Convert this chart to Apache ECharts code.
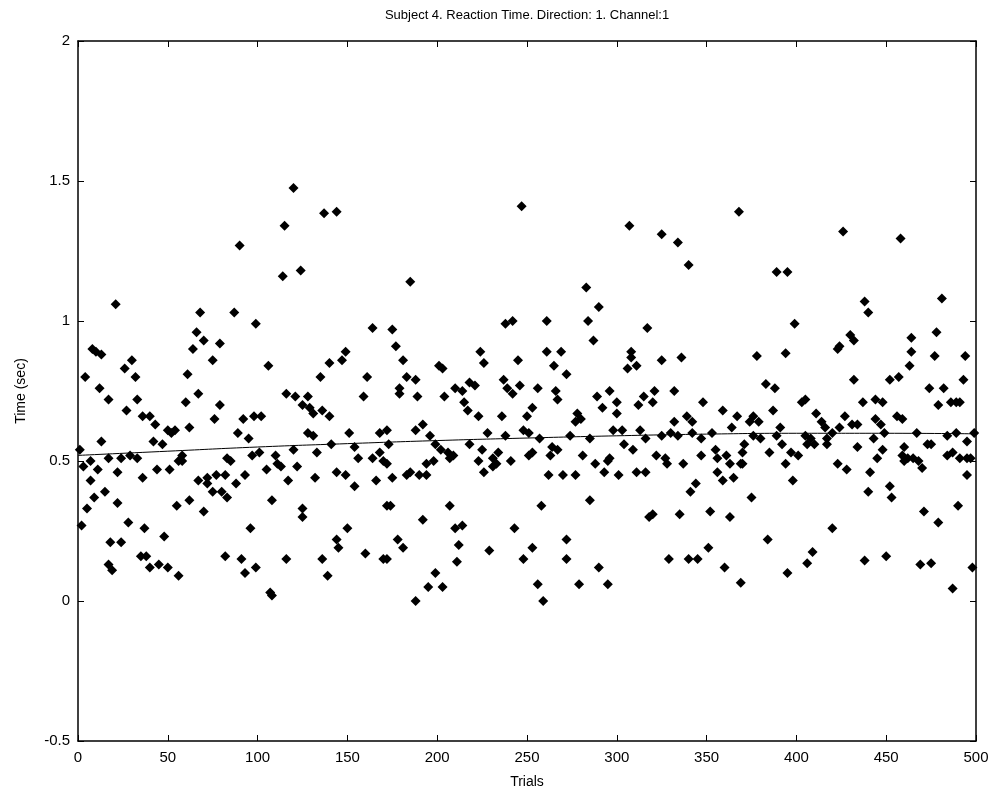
<!DOCTYPE html>
<html>
<head>
<meta charset="utf-8">
<title>Reaction Time</title>
<script src="https://cdn.jsdelivr.net/npm/echarts@6/dist/echarts.min.js"></script>
<style>
  html, body { margin: 0; padding: 0; background: #fff; }
  #main { width: 994px; height: 799px; }
</style>
</head>
<body>
<div id="main"></div>
<script>
// 坐标轴刻度
var xTicks = [0, 50, 100, 150, 200, 250, 300, 350, 400, 450, 500];
var yTicks = [-0.5, 0, 0.5, 1, 1.5, 2];

// 每次试验的反应时间 [trial, time(sec)]
var points = [
  [1,0.54],[2,0.27],[3,0.48],[4,0.80],[5,0.33],[7,0.50],[7,0.43],[8,0.90],[9,0.37],[10,0.89],
  [11,0.47],[12,0.76],[13,0.88],[13,0.57],[15,0.39],[17,0.72],[17,0.51],[17,0.13],[18,0.21],[19,0.11],
  [21,1.06],[22,0.46],[22,0.35],[24,0.51],[24,0.21],[26,0.83],[27,0.68],[28,0.28],[29,0.52],[30,0.86],
  [32,0.80],[33,0.72],[33,0.51],[35,0.16],[36,0.66],[36,0.44],[37,0.26],[38,0.16],[40,0.66],[40,0.12],
  [42,0.57],[43,0.63],[44,0.47],[45,0.13],[47,0.56],[48,0.23],[50,0.61],[50,0.12],[51,0.47],[52,0.60],
  [54,0.61],[55,0.34],[56,0.50],[56,0.09],
  [58,0.50],[58,0.52],[60,0.71],[61,0.81],[62,0.62],[62,0.36],[64,0.90],[66,0.96],[67,0.74],[67,0.43],
  [68,1.03],[70,0.93],[70,0.32],[72,0.44],[72,0.42],[75,0.86],[75,0.39],[76,0.65],[77,0.45],[79,0.92],
  [79,0.70],[80,0.39],[82,0.45],[82,0.16],[83,0.51],[83,0.37],[85,0.50],[87,1.03],[88,0.42],[89,0.60],
  [90,1.27],[91,0.15],[92,0.65],[93,0.45],[93,0.10],[95,0.58],[96,0.26],[97,0.52],[98,0.66],[99,0.99],
  [99,0.12],[101,0.53],[102,0.66],[105,0.47],[106,0.84],[107,0.03],[108,0.36],[108,0.02],[110,0.52],[111,0.49],
  [113,0.48],[114,1.16],[115,1.34],[116,0.74],[116,0.15],[117,0.43],[120,1.475],[120,0.54],[121,0.73],[122,0.48],
  [124,1.18],[125,0.70],[125,0.33],[125,0.30],[128,0.73],[128,0.60],[129,0.69],[131,0.67],[131,0.59],[132,0.44],
  [133,0.53],[135,0.80],[136,0.68],[136,0.15],[137,1.385],[139,0.09],[140,0.85],[140,0.66],[141,0.56],[144,1.39],
  [144,0.46],[144,0.22],[145,0.19],[147,0.86],[149,0.89],[149,0.45],[150,0.26],[151,0.60],[154,0.55],[154,0.41],
  [156,0.51],[159,0.73],[160,0.17],[161,0.80],[164,0.975],[164,0.51],[166,0.43],[168,0.60],[168,0.53],[170,0.50],
  [170,0.15],[172,0.34],
  [172,0.61],[172,0.49],[172,0.15],[173,0.56],[174,0.34],[175,0.97],[175,0.44],[177,0.91],[178,0.22],[179,0.76],
  [179,0.74],[181,0.86],[181,0.19],[183,0.80],[183,0.45],[185,1.14],[185,0.46],[188,0.79],[188,0.61],[188,0.00],
  [189,0.73],[190,0.45],[192,0.63],[192,0.29],[194,0.49],[194,0.45],[195,0.05],[196,0.59],[198,0.50],[199,0.56],
  [199,0.10],[201,0.84],[202,0.54],[203,0.83],[203,0.05],[204,0.73],[206,0.53],[207,0.51],[207,0.34],[209,0.52],
  [210,0.76],[210,0.26],[211,0.14],[212,0.20],[214,0.75],[214,0.27],[215,0.71],[217,0.68],[218,0.78],[218,0.56],
  [221,0.77],[223,0.66],[223,0.50],[224,0.89],[225,0.54],[226,0.85],[226,0.46],[228,0.60],[229,0.18],[231,0.51],
  [231,0.48],
  [233,0.49],[234,0.53],[236,0.66],[237,0.79],[238,0.99],[238,0.59],[239,0.76],[241,0.50],[242,1.00],[242,0.74],
  [243,0.26],[245,0.86],[246,0.77],[247,1.41],[248,0.61],[248,0.15],[250,0.66],[251,0.60],[251,0.52],[253,0.69],
  [253,0.53],[253,0.19],[256,0.76],[256,0.06],[257,0.58],[258,0.34],[259,0.00],[261,1.00],[261,0.89],[262,0.45],
  [263,0.52],[264,0.55],[265,0.84],[266,0.75],[267,0.72],[267,0.54],[269,0.89],[270,0.45],[272,0.81],[272,0.22],
  [272,0.15],[274,0.59],[277,0.64],[277,0.45],[278,0.67],[279,0.06],[280,0.65],[281,0.52],[283,1.12],[284,1.00],
  [285,0.58],[285,0.36],[287,0.93],[288,0.49],[289,0.73],[290,1.05],[290,0.12],
  [292,0.69],[293,0.46],[295,0.50],[295,0.06],[296,0.75],[296,0.51],[298,0.61],[300,0.71],[300,0.67],[301,0.45],
  [303,0.61],[304,0.56],[306,0.83],[307,1.34],[308,0.89],[308,0.87],[309,0.54],[311,0.84],[311,0.46],[312,0.70],
  [313,0.61],[315,0.73],[316,0.58],[316,0.46],[317,0.975],[318,0.30],[320,0.71],[320,0.31],[321,0.75],[322,0.52],
  [325,1.31],[325,0.86],[325,0.59],[327,0.51],[328,0.49],[329,0.15],[330,0.60],[332,0.75],[332,0.64],[334,1.28],
  [334,0.59],[335,0.31],[336,0.87],[337,0.49],[339,0.66],[340,1.20],[340,0.15],[341,0.39],[342,0.64],[342,0.60],
  [344,0.42],[345,0.15],[347,0.58],[347,0.52],[348,0.71],
  [351,0.19],[352,0.32],[353,0.60],[355,0.54],[356,0.51],[356,0.46],[359,0.68],[359,0.43],[360,0.12],[361,0.52],
  [363,0.49],[363,0.30],[364,0.62],[365,0.44],[367,0.66],[368,1.39],[369,0.49],[369,0.065],[370,0.49],[370,0.53],
  [371,0.56],[374,0.64],[375,0.37],[376,0.66],[376,0.59],[378,0.875],[379,0.64],[380,0.58],[383,0.775],[384,0.22],
  [385,0.53],[387,0.68],[388,0.76],[389,1.175],[389,0.59],[391,0.62],[392,0.56],[394,0.885],[394,0.49],[395,1.175],
  [395,0.10],[397,0.53],[398,0.43],[399,0.99],[401,0.52],[403,0.71],[405,0.72],[405,0.59],[406,0.56],[406,0.135],
  [408,0.58],[409,0.175],[410,0.56],[411,0.67],[414,0.64],[416,0.62],[417,0.58],[417,0.56],[420,0.60],[420,0.26],
  [423,0.90],[423,0.49],[424,0.91],[424,0.62],[426,1.32],[427,0.66],[428,0.47],[430,0.95],[431,0.63],[432,0.93],
  [432,0.79],[434,0.63],[434,0.55],[437,0.71],[438,1.07],[438,0.145],[440,1.03],[440,0.39],[441,0.46],[443,0.58],
  [444,0.72],[444,0.65],[445,0.51],[447,0.63],[448,0.71],[448,0.54],[449,0.60],[450,0.16],[452,0.79],[452,0.41],
  [453,0.37],[456,0.66],[457,0.80],[458,1.295],[459,0.65],[459,0.52],[460,0.55],[460,0.50],[463,0.84],[464,0.94],
  [464,0.89],
  [462,0.51],[465,0.51],[467,0.60],[468,0.50],[469,0.13],[470,0.475],[471,0.32],[473,0.56],[474,0.76],[475,0.56],
  [475,0.135],[477,0.875],[478,0.96],[479,0.70],[479,0.28],[481,1.08],[482,0.76],[484,0.59],[484,0.52],[486,0.71],
  [487,0.53],[487,0.045],[489,0.71],[489,0.60],[490,0.34],[491,0.71],[491,0.51],[493,0.79],[494,0.875],[495,0.57],
  [495,0.51],[495,0.45],[497,0.51],[498,0.12],[499,0.60]
];

// 拟合曲线
var fitTrials = [0, 50, 100, 150, 200, 250, 300, 350, 400, 450, 500];
var fitTimes = [0.52, 0.535, 0.55, 0.562, 0.573, 0.582, 0.59, 0.596, 0.599, 0.599, 0.597];

var fitData = [];
for (var i = 0; i < fitTrials.length; i++) {
  fitData.push([fitTrials[i], fitTimes[i]]);
}

var font = "Liberation Sans";
var black = "#000";

var tickStyle = { show: true, inside: true, length: 6, lineStyle: { color: black, width: 1 } };
var lineStyle = { show: true, onZero: false, lineStyle: { color: black, width: 1.5 } };

var myChart = echarts.init(document.getElementById("main"));
var option = {
  animation: false,
  backgroundColor: "#fff",
  grid: { left: 78, right: 18, top: 41, bottom: 58, containLabel: false },
  graphic: [
    {
      type: "text",
      x: 527,
      y: 15,
      style: {
        text: "Subject 4. Reaction Time. Direction: 1. Channel:1",
        font: "13px " + font,
        fill: black,
        textAlign: "center",
        textVerticalAlign: "middle"
      }
    }
  ],
  xAxis: [
    {
      type: "value",
      position: "bottom",
      min: 0,
      max: 500,
      interval: 50,
      axisLine: lineStyle,
      axisTick: tickStyle,
      splitLine: { show: false },
      axisLabel: { color: black, fontSize: 15, fontFamily: font, margin: 9 },
      name: "Trials",
      nameLocation: "middle",
      nameGap: 34,
      nameTextStyle: { color: black, fontSize: 14, fontFamily: font }
    },
    {
      type: "value",
      position: "top",
      min: 0,
      max: 500,
      interval: 50,
      axisLine: lineStyle,
      axisTick: tickStyle,
      splitLine: { show: false },
      axisLabel: { show: false }
    }
  ],
  yAxis: [
    {
      type: "value",
      position: "left",
      min: -0.5,
      max: 2,
      interval: 0.5,
      axisLine: lineStyle,
      axisTick: tickStyle,
      splitLine: { show: false },
      axisLabel: { color: black, fontSize: 15, fontFamily: font, margin: 8 },
      name: "Time (sec)",
      nameLocation: "middle",
      nameGap: 50,
      nameTextStyle: { color: black, fontSize: 14, fontFamily: font }
    },
    {
      type: "value",
      position: "right",
      min: -0.5,
      max: 2,
      interval: 0.5,
      axisLine: lineStyle,
      axisTick: tickStyle,
      splitLine: { show: false },
      axisLabel: { show: false }
    }
  ],
  series: [
    {
      name: "Reaction Time",
      type: "scatter",
      xAxisIndex: 0,
      yAxisIndex: 0,
      symbol: "diamond",
      symbolSize: 10,
      itemStyle: { color: black, opacity: 1 },
      data: points
    },
    {
      name: "Fit",
      type: "line",
      xAxisIndex: 0,
      yAxisIndex: 0,
      smooth: true,
      showSymbol: false,
      lineStyle: { color: black, width: 1 },
      data: fitData
    }
  ]
};
myChart.setOption(option);
</script>
</body>
</html>
